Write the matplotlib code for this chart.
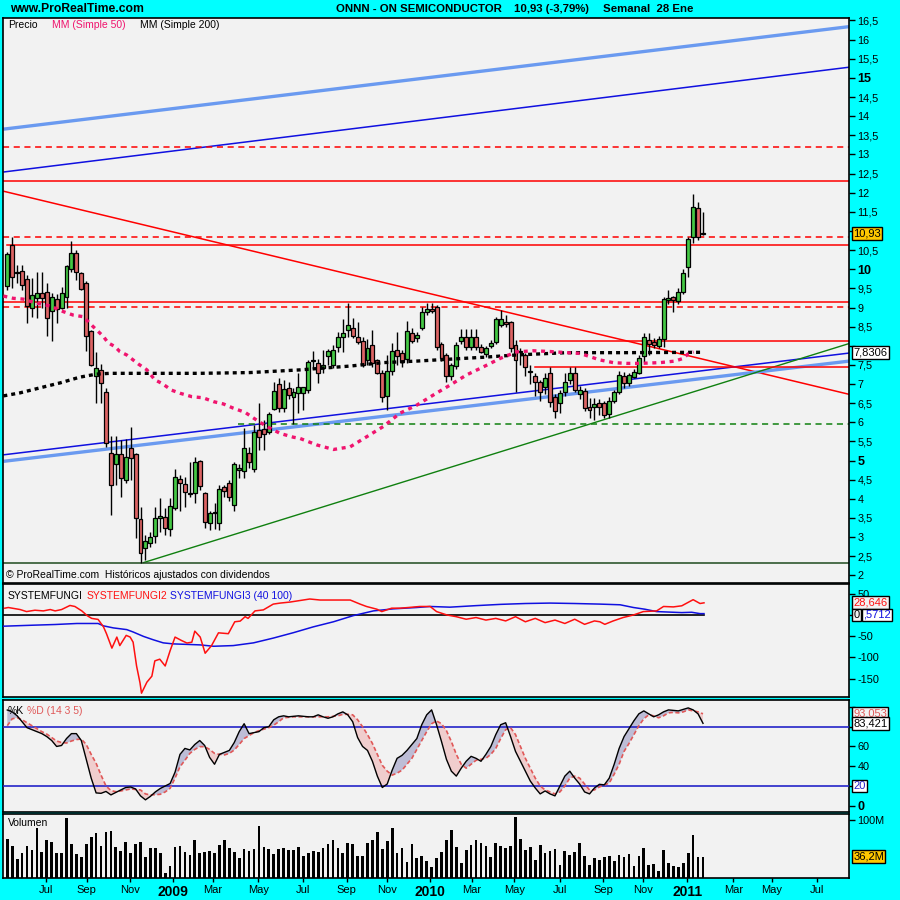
import numpy as np
import matplotlib
matplotlib.use('Agg')
import matplotlib.pyplot as plt
from matplotlib.transforms import blended_transform_factory

plt.rcParams['font.family'] = ['Liberation Sans', 'DejaVu Sans']

# ---------------------------------------------------------------- data
opens = [9.56, 10.63, 9.90, 9.96, 9.75, 8.98, 9.26, 9.37, 9.40, 8.91,
         9.21, 8.98, 9.28, 10.00, 10.42, 9.89, 9.63, 8.39, 7.21, 7.38,
         6.78, 5.19, 4.91, 5.16, 4.49, 5.32, 5.16, 3.47, 2.72, 2.85,
         3.03, 3.49, 3.52, 3.21, 3.75, 4.51, 4.38, 4.16, 4.15, 4.99,
         4.15, 3.38, 3.64, 3.36, 4.30, 4.41, 3.84, 4.75, 4.73, 5.21,
         4.77, 5.80, 5.82, 5.75, 6.34, 6.99, 6.37, 6.90, 6.65, 6.76,
         6.76, 6.84, 7.60, 7.54, 7.41, 7.73, 7.50, 7.98, 8.22, 8.41,
         8.46, 8.22, 8.13, 7.63, 8.02, 7.63, 7.28, 6.69, 7.35, 7.89,
         7.80, 7.65, 8.33, 8.20, 8.46, 8.88, 8.95, 9.02, 8.04, 7.76,
         7.21, 7.47, 8.13, 8.22, 7.98, 8.22, 7.98, 7.78, 7.99, 8.11,
         8.55, 8.63, 8.63, 8.02, 7.85, 7.76, 7.32, 7.21, 7.05, 6.91,
         7.28, 6.67, 6.50, 6.80, 7.11, 7.30, 6.74, 6.83, 6.41, 6.39,
         6.51, 6.51, 6.21, 6.56, 6.80, 7.21, 7.02, 7.19, 7.30, 7.73,
         8.15, 8.11, 7.99, 8.17, 9.20, 9.27, 9.18, 9.40, 10.05, 10.85,
         11.59, 10.95]
highs = [10.45, 10.85, 10.11, 10.11, 9.85, 9.76, 9.94, 9.94, 9.63, 9.37,
         9.35, 9.53, 10.11, 10.75, 10.50, 9.94, 9.69, 8.42, 7.83, 7.52,
         6.89, 5.63, 5.63, 5.54, 5.56, 5.88, 5.20, 3.80, 3.06, 3.14,
         3.80, 4.02, 3.75, 4.02, 4.77, 4.62, 4.58, 4.97, 5.09, 5.02,
         4.19, 3.67, 3.89, 4.36, 4.36, 4.49, 4.97, 4.90, 5.84, 5.36,
         5.93, 6.50, 6.06, 6.28, 7.06, 7.15, 7.11, 7.05, 6.89, 7.30,
         6.93, 7.63, 7.87, 7.65, 7.89, 7.91, 8.02, 8.37, 8.69, 9.11,
         8.72, 8.63, 8.24, 8.17, 8.41, 7.65, 7.37, 7.76, 8.06, 8.37,
         7.90, 8.65, 8.46, 8.35, 9.02, 9.11, 9.11, 9.06, 8.10, 7.80,
         7.55, 8.10, 8.45, 8.45, 8.45, 8.45, 8.05, 8.00, 8.15, 8.75,
         8.93, 8.80, 8.65, 8.15, 7.95, 7.80, 7.50, 7.30, 7.10, 7.30,
         7.45, 6.75, 6.85, 7.30, 7.45, 7.45, 6.95, 6.90, 6.63, 6.64,
         6.60, 6.55, 6.65, 6.85, 7.35, 7.32, 7.30, 7.40, 7.75, 8.33,
         8.34, 8.20, 8.25, 9.28, 9.46, 9.30, 9.50, 10.00, 10.83, 11.96,
         11.76, 11.50]
lows = [9.46, 9.50, 9.63, 9.46, 8.60, 8.74, 8.72, 8.98, 8.25, 8.13,
        8.60, 8.95, 8.98, 9.94, 9.72, 9.46, 7.87, 7.48, 6.50, 6.50,
        5.35, 3.58, 4.36, 4.06, 4.41, 4.49, 2.98, 2.32, 2.40, 2.75,
        2.84, 3.14, 3.06, 3.03, 3.70, 3.67, 3.80, 4.06, 3.89, 4.23,
        3.23, 3.19, 3.21, 3.19, 4.05, 3.95, 3.67, 4.55, 4.54, 4.80,
        4.70, 5.28, 5.28, 5.70, 6.32, 6.28, 6.28, 6.62, 5.96, 6.25,
        6.32, 6.76, 7.40, 7.02, 7.30, 7.50, 7.41, 7.85, 7.85, 8.24,
        8.20, 8.05, 7.45, 7.50, 7.45, 7.25, 6.54, 6.32, 7.24, 7.50,
        7.45, 7.55, 8.06, 8.10, 8.41, 8.80, 8.85, 7.89, 7.60, 7.06,
        7.10, 7.40, 8.05, 7.90, 7.90, 7.90, 7.80, 7.70, 7.95, 8.05,
        8.50, 8.50, 7.85, 6.80, 7.50, 7.20, 7.00, 6.70, 6.55, 6.75,
        6.40, 6.10, 6.24, 6.70, 7.00, 6.80, 6.60, 6.30, 6.10, 6.06,
        6.20, 6.12, 6.10, 6.50, 6.75, 6.89, 6.95, 7.15, 7.25, 7.58,
        7.76, 7.95, 7.95, 7.98, 9.10, 8.89, 9.10, 9.35, 9.80, 10.68,
        10.76, 10.89]
closes = [10.39, 9.79, 9.92, 9.60, 9.05, 9.33, 9.39, 9.24, 8.72, 9.28,
          8.95, 9.37, 10.08, 10.42, 9.92, 9.48, 8.26, 7.49, 7.43, 7.02,
          5.47, 4.36, 5.16, 4.54, 5.10, 5.06, 3.49, 2.58, 2.91, 3.01,
          3.49, 3.55, 3.23, 3.82, 4.58, 4.41, 4.17, 4.12, 4.96, 4.34,
          3.40, 3.64, 3.65, 4.25, 4.20, 4.04, 4.91, 4.80, 5.32, 4.95,
          5.75, 5.61, 5.69, 6.22, 6.82, 6.37, 6.86, 6.72, 6.80, 6.91,
          6.91, 7.58, 7.63, 7.30, 7.50, 7.86, 7.89, 8.22, 8.33, 8.54,
          8.26, 8.11, 7.50, 7.93, 7.54, 7.30, 6.67, 7.34, 7.86, 7.73,
          7.58, 8.39, 8.13, 8.28, 8.89, 8.95, 8.90, 7.98, 7.67, 7.21,
          7.50, 8.02, 8.22, 7.98, 8.22, 7.98, 7.85, 7.93, 8.06, 8.69,
          8.69, 8.57, 7.93, 7.63, 7.86, 7.44, 7.33, 7.06, 6.78, 7.17,
          6.54, 6.30, 6.76, 7.06, 7.28, 6.84, 6.84, 6.37, 6.32, 6.48,
          6.41, 6.19, 6.56, 6.80, 7.24, 7.02, 7.24, 7.32, 7.67, 8.22,
          8.05, 8.02, 8.19, 9.22, 9.24, 9.20, 9.40, 9.89, 10.78, 11.63,
          10.85, 10.93]

# moving averages, read at chart positions (week index, price)
ma50_i = [-0.8, 1.2, 3.2, 6, 8.7, 11.4, 13.4, 15.4, 16.4, 17.4, 19.5, 20.4,
          21.8, 22.8, 24.2, 26.6, 28.3, 29.9, 31.3, 33.3, 35, 37.4, 39.7,
          41.8, 43.8, 45.8, 48.2, 50.5, 52.6, 55.3, 58, 59.3, 62.7, 66.1,
          69.5, 72.8, 76.2, 79.6, 83, 86.3, 89.7, 93.1, 96.5, 99.9, 103.2,
          106.6, 110, 113.4, 116.1, 120.1, 122.8, 125.5, 128.2, 132.3,
          135.3, 137, 138, 139.1]
ma50_v = [9.30, 9.24, 9.22, 9.11, 9.04, 8.89, 8.80, 8.76, 8.63, 8.50, 8.24,
          8.08, 7.98, 7.85, 7.76, 7.52, 7.37, 7.11, 7.02, 6.84, 6.76, 6.67,
          6.64, 6.54, 6.48, 6.37, 6.26, 6.06, 5.89, 5.71, 5.61, 5.58, 5.41,
          5.29, 5.36, 5.62, 5.89, 6.24, 6.45, 6.71, 6.97, 7.24, 7.45, 7.67,
          7.84, 7.87, 7.85, 7.82, 7.80, 7.63, 7.56, 7.54, 7.54, 7.56, 7.60,
          7.67, 7.79, 7.84]
ma200_i = [-0.8, 2.6, 6.6, 10.7, 14.7, 18.1, 20.8, 39, 49.2, 59.3, 69.5,
           76.2, 83, 89.7, 96.5, 103.2, 113.4, 125.5, 141]
ma200_v = [6.69, 6.77, 6.90, 7.03, 7.18, 7.26, 7.28, 7.28, 7.30, 7.37, 7.47,
           7.56, 7.60, 7.65, 7.70, 7.76, 7.82, 7.82, 7.83]

# drawn trendlines: (start index, start price, end index, end price, colour, width)
trendlines = [
    (-0.81, 13.66, 170.65, 16.34, '#6A9AF0', 2.4),
    (-0.81, 12.54, 170.65, 15.28, '#1010E0', 1.1),
    (-0.81, 12.04, 170.65, 6.73, '#FF0000', 1.1),
    (-0.81, 5.15, 170.65, 7.81, '#1010E0', 1.1),
    (-0.81, 4.98, 170.65, 7.60, '#6A9AF0', 2.4),
    (27.5, 2.33, 170.65, 8.06, '#108010', 1.0),
]
# horizontal levels: (price, start index, colour, style)
levels = [
    (13.19, -0.81, '#FF0000', '--'),
    (12.30, -0.81, '#FF0000', '-'),
    (10.84, -0.81, '#FF0000', '--'),
    (10.63, 0.0, '#FF0000', '-'),
    (9.14, -0.81, '#FF0000', '-'),
    (9.02, -0.81, '#FF0000', '--'),
    (8.12, 103.9, '#FF0000', '-'),
    (7.44, 107.0, '#FF0000', '-'),
    (5.96, 46.8, '#108010', '--'),
    (2.32, -0.81, '#1E4A1E', '-'),
]

# SYSTEMFUNGI indicator
sf2_i = [-0.5, 0.2, 2.6, 3.9, 5.6, 7.3, 8.7, 9.7, 11, 12.7, 13.7, 15.1, 16.2,
         17.1, 18.4, 19.5, 20.1, 21.2, 22.2, 22.8, 24.1, 24.9, 25.5, 26.2,
         26.9, 27.2, 28.3, 29.3, 29.9, 30.9, 32, 33, 34, 35.3, 36.4, 37.4,
         38, 39.1, 40.1, 41.4, 42.8, 44.8, 46.1, 47.2, 48.2, 48.8, 50.2,
         51.9, 53.9, 55.3, 57.3, 61.3, 63.4, 66.1, 69.5, 71.5, 72.8, 74.9,
         75.9, 77.9, 79.6, 81.3, 83.6, 85.7, 87, 89.1, 91, 93, 95, 97, 99,
         101, 103, 105, 107, 109, 111, 113, 115, 117, 119, 120.1, 121.1,
         122.8, 124.8, 126.9, 128.9, 131.6, 133, 135, 136.7, 139, 140.4,
         141.2]
sf2_v = [16, 17.6, 12.8, 8, 11.2, 9.6, 12.8, 9.6, 12.8, 22.4, 20, 9.6, -1.6,
         -8, -10.4, -28, -44, -78, -52, -72, -48, -52, -64, -120, -160, -184,
         -158, -144, -108, -104, -120, -84, -52, -60, -66, -64, -38, -52, -90,
         -72, -42, -44, -16, -14.4, -4, -8, 9.6, 12, 25.6, 28, 30.4, 37.6,
         35.2, 35.2, 35.2, 25.6, 20, 13.6, 8, 16, 16, 17.6, 20, 20, 8, 0,
         -4, -10, -6, -12, -8, -14, -4, -16, -8, -18, -12, -20, -10, -22,
         -14, -16, -22, -14, -6, 0, 8, 9.6, 20, 19, 21.6, 36, 27, 28.6]
sf3_i = [-0.8, 5.3, 9.7, 14.1, 18.4, 19.5, 21.5, 24.2, 25.5, 27.6, 29.6, 31.6,
         33.6, 39.1, 41.8, 45.8, 49.9, 53.9, 58, 62, 66.1, 70.1, 74.2, 78.2,
         83, 85.7, 89.7, 95, 100, 105, 110, 115, 120.1, 124.2, 126.9, 129.2,
         131.6, 136.7, 138.7, 140.4, 141.2]
sf3_v = [-26.4, -24, -22.4, -20, -20, -25.6, -30.4, -34.4, -40, -50.4, -58.4,
         -65.6, -68, -70.4, -73.6, -72, -65.6, -54.4, -41.6, -28, -16, -1.6,
         9.6, 14.4, 17.6, 20, 18.4, 22, 25, 27, 28, 27, 25.6, 24, 17.6, 13.6,
         8, 5.6, 6.4, 3.2, 3.2]

# stochastic %K / %D (one value per week)
stoch_k = [96.9, 95, 91, 85, 79, 77, 75, 73, 70, 66,
           60, 61, 68, 73, 73, 66, 47, 28, 13, 12.6,
           14.5, 11, 13.5, 16, 18.5, 19, 17, 10, 6, 9.5,
           14, 17.5, 20, 22.5, 34, 52, 58, 56.5, 62, 66,
           61, 49, 42, 52, 54, 56, 64, 75, 83, 73,
           74, 75, 79, 80, 87, 90, 91, 90, 90.5, 91,
           90.5, 90, 90, 92, 90, 88.5, 90, 93, 95, 92,
           85, 69, 60, 56, 45, 30, 18.5, 22, 36, 48,
           51, 56, 62, 68, 82, 92, 97, 82, 65, 47,
           35, 30, 38, 45, 50, 48, 45, 52, 60, 72,
           82, 84, 70, 55, 45, 35, 25, 18, 12, 15,
           12, 10, 20, 30, 35, 28, 22, 14, 12, 18,
           21.7, 21.2, 28, 42, 58, 70, 78, 86, 93, 96,
           93, 90, 92, 95, 97, 96.5, 96, 97.5, 99, 97,
           93, 83.4]
stoch_d = [81, 88, 89, 87, 84, 81, 78, 75, 72.5, 69,
           65.5, 64, 63.5, 65.5, 67, 67.5, 62, 52, 43, 31,
           20, 15.5, 14.2, 15, 16, 17, 16.5, 16, 12, 11,
           11.2, 11.6, 14, 17.7, 28, 39.5, 46, 53, 57, 59.8,
           59.8, 57, 53, 52, 51.4, 53, 56.4, 62, 68, 71,
           74, 76, 77.5, 79, 81.5, 85, 89, 89.5, 90, 90,
           90, 90, 90, 90, 90, 90, 90.5, 91, 92.5, 92.5,
           92, 87, 80, 72, 63, 52, 41, 35, 31, 33,
           36, 42, 48, 57, 66, 75, 83, 85.8, 83, 76,
           65, 52, 42, 38, 42, 46, 47, 48, 52, 58,
           68, 77, 79, 72, 60, 48, 38, 28, 20, 16,
           14, 12, 14, 20, 28, 30, 28, 22, 16, 16,
           19, 21, 23, 32, 42, 55, 63, 72, 81, 88,
           92, 91, 89, 91, 94, 94.5, 94, 95, 97, 96,
           95, 93.05]

# weekly volume (millions)
volume = [67, 55, 32, 43, 55, 48, 86, 45, 65, 62, 43, 43, 104, 58, 41, 36,
          58, 70, 77, 55, 79, 81, 53, 46, 62, 43, 58, 62, 36, 51, 51, 43, 8,
          20, 53, 55, 45, 39, 65, 43, 45, 46, 43, 57, 65, 51, 45, 34, 50, 47,
          50, 90, 53, 50, 41, 50, 51, 48, 48, 53, 38, 43, 46, 45, 51, 58, 65,
          51, 43, 60, 58, 38, 38, 60, 65, 79, 50, 64, 86, 43, 51, 27, 58, 34,
          38, 29, 19, 34, 45, 65, 83, 53, 26, 48, 57, 65, 60, 55, 36, 60, 55,
          51, 55, 105, 67, 48, 53, 31, 57, 43, 46, 50, 22, 46, 39, 45, 60, 38,
          22, 34, 31, 36, 38, 29, 39, 36, 41, 20, 38, 51, 22, 24, 12, 48, 26,
          20, 19, 26, 43, 74, 36, 36.2]

month_pos = [7.84, 16.09, 24.87, 33.65, 41.62, 50.88, 60.0, 68.78, 76.89,
             85.67, 94.12, 102.76, 112.02, 120.8, 128.9, 137.82, 147.14,
             154.9, 164.04]
month_labels = ['Jul', 'Sep', 'Nov', '2009', 'Mar', 'May', 'Jul', 'Sep',
                'Nov', '2010', 'Mar', 'May', 'Jul', 'Sep', 'Nov', '2011',
                'Mar', 'May', 'Jul']

# ---------------------------------------------------------------- style
CYAN = '#00FFFF'
PANEL = '#F2F2F2'
GREEN = '#44C844'
RED = '#DC6464'
XLIM = (-0.81, 170.65)

fig = plt.figure(figsize=(9, 9), dpi=100, facecolor=CYAN)


def panel(top, bottom):
    """Panel placed by its pixel rows on the 900 px canvas."""
    ax = fig.add_axes([3.3 / 900, 1 - bottom / 900, 846 / 900,
                       (bottom - top) / 900])
    ax.set_facecolor(PANEL)
    ax.set_xlim(*XLIM)
    for sp in ax.spines.values():
        sp.set_linewidth(1.2)
    ax.yaxis.tick_right()
    ax.tick_params(axis='y', direction='out', length=4, width=1, pad=2,
                   labelsize=7.8)
    ax.tick_params(axis='x', bottom=False, labelbottom=False)
    return ax


def value_box(ax, y, text, color='black', face='white', x=1.0047):
    tr = blended_transform_factory(ax.transAxes, ax.transData)
    ax.text(x, y, text, transform=tr, ha='left', va='center',
            fontsize=8, color=color, clip_on=False, zorder=20,
            bbox=dict(boxstyle='square,pad=0.12', fc=face, ec='black',
                      lw=1))


def fmt(v):
    return ('%g' % v).replace('.', ',')


def right_ticks(ax, values, hidden=(), bold=(), bold_size=9):
    """Right-hand tick labels; labels hidden behind a value box stay blank."""
    ax.set_yticks(values)
    ax.set_yticklabels(['' if v in hidden else fmt(v) for v in values])
    for v, lab in zip(values, ax.get_yticklabels()):
        if v in bold:
            lab.set_fontweight('bold')
            lab.set_fontsize(bold_size)


ax1 = panel(18, 582.7)
ax2 = panel(584.3, 697)
ax3 = panel(700.3, 811.7)
ax4 = panel(814.3, 878.3)

# ---------------------------------------------------------------- price
o = np.array(opens)
h = np.array(highs)
l = np.array(lows)
c = np.array(closes)
idx = np.arange(len(c))
ax1.set_ylim(1.809, 16.565)

for x0, y0, x1, y1, col, lw in trendlines:
    ax1.plot([x0, x1], [y0, y1], color=col, lw=lw, zorder=2,
             solid_capstyle='butt')
for price, start, col, ls in levels:
    ax1.plot([start, XLIM[1]], [price, price], color=col, lw=1.1, ls=ls,
             dashes=(4, 3) if ls == '--' else (None, None), zorder=2)

ax1.vlines(idx, l, h, color='black', lw=1, zorder=3)
body_lo = np.minimum(o, c)
body_h = np.maximum(np.abs(c - o), 0.015)
ax1.bar(idx, body_h, bottom=body_lo, width=0.8,
        color=np.where(c >= o, GREEN, RED), edgecolor='black', lw=0.9,
        zorder=4)

ax1.plot(ma200_i, ma200_v, color='black', lw=2.4, ls=(0, (1.2, 1.2)),
         zorder=5)
ax1.plot(ma50_i, ma50_v, color='#F0146E', lw=2.4, ls=(0, (1.2, 1.4)),
         zorder=5)

right_ticks(ax1, list(np.arange(2, 16.51, 0.5)), hidden=(11.0, 8.0),
            bold=(5.0, 10.0, 15.0))
value_box(ax1, c[-1], fmt(c[-1]), face='#FFC800')
value_box(ax1, 7.8306, '7,8306')

ax1.text(0.006, 0.988, 'Precio', transform=ax1.transAxes, fontsize=7.5,
         va='center')
ax1.text(0.057, 0.988, 'MM (Simple 50)', transform=ax1.transAxes,
         fontsize=7.5, va='center', color='#F0146E')
ax1.text(0.162, 0.988, 'MM (Simple 200)', transform=ax1.transAxes,
         fontsize=7.5, va='center')
ax1.text(0.003, 0.013, '\u00a9 ProRealTime.com  Hist\u00f3ricos ajustados '
         'con dividendos', transform=ax1.transAxes, fontsize=7.5,
         va='center')

# ---------------------------------------------------------------- SYSTEMFUNGI
ax2.set_ylim(-193, 72.2)
ax2.plot([XLIM[0], 141.2], [0, 0], color='black', lw=1.2, zorder=2)
ax2.plot(sf3_i, sf3_v, color='#1010E0', lw=1.1, zorder=3)
ax2.plot(sf2_i, sf2_v, color='#FF1010', lw=1.1, zorder=4)
right_ticks(ax2, [50, 0, -50, -100, -150], hidden=(0,))
value_box(ax2, 28.646, '28,646', color='#FF1010', face=PANEL)
value_box(ax2, 0, '0', face=PANEL)
value_box(ax2, 0, ',5712', color='#1010E0', face='white', x=1.0165)
ax2.text(0.005, 0.9, 'SYSTEMFUNGI', transform=ax2.transAxes, fontsize=7.5,
         va='center')
ax2.text(0.098, 0.9, 'SYSTEMFUNGI2', transform=ax2.transAxes, fontsize=7.5,
         va='center', color='#FF1010')
ax2.text(0.197, 0.9, 'SYSTEMFUNGI3 (40 100)', transform=ax2.transAxes,
         fontsize=7.5, va='center', color='#1010E0')

# ---------------------------------------------------------------- stochastic
k = np.array(stoch_k)
d = np.array(stoch_d)
ax3.set_ylim(-6, 106.7)
ax3.fill_between(idx, k, d, where=k >= d, interpolate=True,
                 color='#BDBDD6', lw=0, zorder=2)
ax3.fill_between(idx, k, d, where=k < d, interpolate=True,
                 color='#F0CDCD', lw=0, zorder=2)
ax3.axhline(80, color='#2424C8', lw=1.2, zorder=3)
ax3.axhline(20, color='#2424C8', lw=1.2, zorder=3)
ax3.plot(idx, d, color='#E05858', lw=1.2, ls=(0, (2.5, 1.5)), zorder=4)
ax3.plot(idx, k, color='black', lw=1.0, zorder=5)
right_ticks(ax3, [0, 20, 40, 60, 80, 100], hidden=(20, 80, 100),
            bold=(0,))
value_box(ax3, d[-1], '93,053', color='#E05858', face=PANEL)
value_box(ax3, k[-1], '83,421', face='white')
value_box(ax3, 20, '20', color='#2424C8', face='white')
ax3.text(0.005, 0.9, '%K', transform=ax3.transAxes, fontsize=7.5,
         va='center')
ax3.text(0.028, 0.9, '%D (14 3 5)', transform=ax3.transAxes, fontsize=7.5,
         va='center', color='#E05858')

# ---------------------------------------------------------------- volume
ax4.set_ylim(-1, 109.9)
ax4.bar(idx, volume, width=0.55, color='black', zorder=3)
ax4.set_yticks([100])
ax4.set_yticklabels(['100M'])
value_box(ax4, volume[-1], '36,2M', face='#FFC800')
ax4.text(0.005, 0.86, 'Volumen', transform=ax4.transAxes, fontsize=7.5,
         va='center')
ax4.set_xticks(month_pos)
ax4.set_xticklabels(month_labels)
ax4.tick_params(axis='x', bottom=True, labelbottom=True, direction='out',
                length=3, width=1, pad=2, labelsize=8)
for lab in ax4.get_xticklabels():
    if lab.get_text().startswith('20'):
        lab.set_fontweight('bold')
        lab.set_fontsize(10)

# ---------------------------------------------------------------- header
fig.text(10 / 900, 1 - 9.5 / 900, 'www.ProRealTime.com', fontsize=8.7,
         fontweight='bold', va='center')
fig.text(336 / 900, 1 - 9.5 / 900, 'ONNN - ON SEMICONDUCTOR', fontsize=8.2,
         fontweight='bold', va='center')
fig.text(514 / 900, 1 - 9.5 / 900, '10,93 (-3,79%)', fontsize=8.2,
         fontweight='bold', va='center')
fig.text(603 / 900, 1 - 9.5 / 900, 'Semanal  28 Ene', fontsize=8.2,
         fontweight='bold', va='center')

fig.savefig('out.png', dpi=100, facecolor=CYAN)
